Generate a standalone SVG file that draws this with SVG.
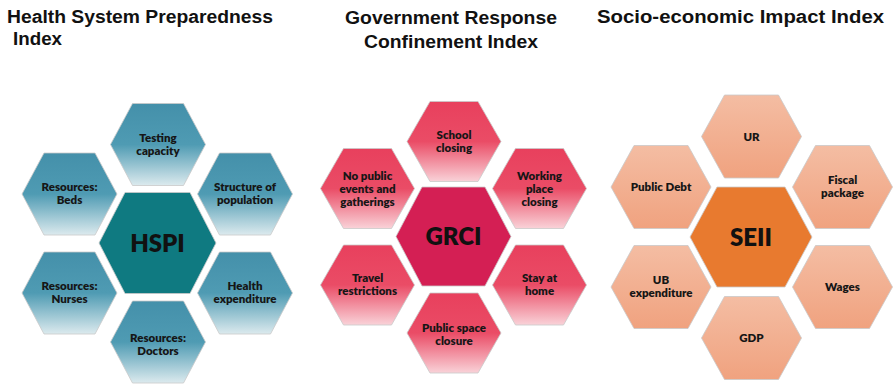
<svg xmlns="http://www.w3.org/2000/svg" xmlns:xlink="http://www.w3.org/1999/xlink" width="894" height="384" viewBox="0 0 894 384">
  <style>
    .title { font-family: "Liberation Sans", Arial, sans-serif; font-weight: bold; font-size: 18px; fill: #111; }
    .lbl { font-family: Lato, "Open Sans", sans-serif; font-weight: 800; font-size: 11.5px; fill: #161616; text-anchor: middle; }
    .big { font-family: Lato, "Open Sans", sans-serif; font-weight: 800; font-size: 24px; fill: #111; text-anchor: middle; }
    .hx { stroke: #c9c9c9; stroke-width: 0.8; }
  </style>
  <defs>
    <linearGradient id="gTeal" x1="0" y1="0" x2="0" y2="1">
      <stop offset="0" stop-color="#4490aa"/>
      <stop offset="0.5" stop-color="#4f9bb3"/>
      <stop offset="1" stop-color="#dceaee"/>
    </linearGradient>
    <linearGradient id="gPink" x1="0" y1="0" x2="0" y2="1">
      <stop offset="0" stop-color="#e8405d"/>
      <stop offset="0.5" stop-color="#ea4c66"/>
      <stop offset="1" stop-color="#f9d2d8"/>
    </linearGradient>
    <linearGradient id="gPeach" x1="0" y1="0" x2="0" y2="1">
      <stop offset="0" stop-color="#f4bda3"/>
      <stop offset="1" stop-color="#f0a27f"/>
    </linearGradient>
    <polygon id="hT" points="-47.5,0 -25.5,-41 25.5,-41 47.5,0 25.5,41 -25.5,41"/>
    <polygon id="hP" points="-47,0 -24,-40 24,-40 47,0 24,40 -24,40"/>
    <polygon id="hO" points="-50,0 -27,-41.5 27,-41.5 50,0 27,41.5 -27,41.5"/>
  </defs>

  <g id="titles">
    <text class="title" x="7" y="23" textLength="266" lengthAdjust="spacingAndGlyphs">Health System Preparedness</text>
    <text class="title" x="13" y="45" textLength="49" lengthAdjust="spacingAndGlyphs">Index</text>
    <text class="title" x="451" y="24" text-anchor="middle" textLength="212" lengthAdjust="spacingAndGlyphs">Government Response</text>
    <text class="title" x="451" y="48" text-anchor="middle" textLength="174" lengthAdjust="spacingAndGlyphs">Confinement Index</text>
    <text class="title" x="597" y="23" textLength="287" lengthAdjust="spacingAndGlyphs">Socio-economic Impact Index</text>
  </g>

  <g id="connectors"></g>

  <!-- Panel 1: HSPI -->
  <g id="hspi">
    <polygon class="hx" fill="#0f7a81" points="99,243 125,192.5 190,192.5 216,243 190,293.5 125,293.5"/>
    <text class="big" x="157.5" y="252">HSPI</text>
  </g>
  <g id="testing">
    <use xlink:href="#hT" href="#hT" class="hx" fill="url(#gTeal)" transform="translate(158,144.5)"/>
    <text class="lbl" x="158" y="142">Testing</text>
    <text class="lbl" x="158" y="155">capacity</text>
  </g>
  <g id="beds">
    <use xlink:href="#hT" href="#hT" class="hx" fill="url(#gTeal)" transform="translate(69.5,194)"/>
    <text class="lbl" x="69.5" y="191">Resources:</text>
    <text class="lbl" x="69.5" y="204">Beds</text>
  </g>
  <g id="structure">
    <use xlink:href="#hT" href="#hT" class="hx" fill="url(#gTeal)" transform="translate(245,194)"/>
    <text class="lbl" x="245" y="191">Structure of</text>
    <text class="lbl" x="245" y="204">population</text>
  </g>
  <g id="nurses">
    <use xlink:href="#hT" href="#hT" class="hx" fill="url(#gTeal)" transform="translate(69.5,293)"/>
    <text class="lbl" x="69.5" y="290">Resources:</text>
    <text class="lbl" x="69.5" y="303">Nurses</text>
  </g>
  <g id="healthexp">
    <use xlink:href="#hT" href="#hT" class="hx" fill="url(#gTeal)" transform="translate(245,293)"/>
    <text class="lbl" x="245" y="290">Health</text>
    <text class="lbl" x="245" y="303">expenditure</text>
  </g>
  <g id="doctors">
    <use xlink:href="#hT" href="#hT" class="hx" fill="url(#gTeal)" transform="translate(158,342)"/>
    <text class="lbl" x="158" y="341.5">Resources:</text>
    <text class="lbl" x="158" y="354.5">Doctors</text>
  </g>

  <!-- Panel 2: GRCI -->
  <g id="grci">
    <polygon class="hx" fill="#d41f54" points="396,236.5 422,187 485,187 511,236.5 485,286 422,286"/>
    <text class="big" x="453.5" y="245">GRCI</text>
  </g>
  <g id="school">
    <use xlink:href="#hP" href="#hP" class="hx" fill="url(#gPink)" transform="translate(454,141.5)"/>
    <text class="lbl" x="454" y="139">School</text>
    <text class="lbl" x="454" y="152">closing</text>
  </g>
  <g id="nopublic">
    <use xlink:href="#hP" href="#hP" class="hx" fill="url(#gPink)" transform="translate(367.5,188.5)"/>
    <text class="lbl" x="367.5" y="180">No public</text>
    <text class="lbl" x="367.5" y="193">events and</text>
    <text class="lbl" x="367.5" y="206">gatherings</text>
  </g>
  <g id="working">
    <use xlink:href="#hP" href="#hP" class="hx" fill="url(#gPink)" transform="translate(539.5,188.5)"/>
    <text class="lbl" x="539.5" y="180">Working</text>
    <text class="lbl" x="539.5" y="193">place</text>
    <text class="lbl" x="539.5" y="206">closing</text>
  </g>
  <g id="travel">
    <use xlink:href="#hP" href="#hP" class="hx" fill="url(#gPink)" transform="translate(367.5,285)"/>
    <text class="lbl" x="367.5" y="282">Travel</text>
    <text class="lbl" x="367.5" y="295">restrictions</text>
  </g>
  <g id="stay">
    <use xlink:href="#hP" href="#hP" class="hx" fill="url(#gPink)" transform="translate(539.5,285)"/>
    <text class="lbl" x="539.5" y="282">Stay at</text>
    <text class="lbl" x="539.5" y="295">home</text>
  </g>
  <g id="publicspace">
    <use xlink:href="#hP" href="#hP" class="hx" fill="url(#gPink)" transform="translate(454,333)"/>
    <text class="lbl" x="454" y="332">Public space</text>
    <text class="lbl" x="454" y="345">closure</text>
  </g>

  <!-- Panel 3: SEII -->
  <g id="seii">
    <polygon class="hx" fill="#e87a2f" points="690,237 717,187 785,187 812,237 785,287 717,287"/>
    <text class="big" x="751" y="245.5">SEII</text>
  </g>
  <g id="ur">
    <use xlink:href="#hO" href="#hO" class="hx" fill="url(#gPeach)" transform="translate(751.5,136.5)"/>
    <text class="lbl" x="751.5" y="141">UR</text>
  </g>
  <g id="publicdebt">
    <use xlink:href="#hO" href="#hO" class="hx" fill="url(#gPeach)" transform="translate(661,187)"/>
    <text class="lbl" x="661" y="191">Public Debt</text>
  </g>
  <g id="fiscal">
    <use xlink:href="#hO" href="#hO" class="hx" fill="url(#gPeach)" transform="translate(842.5,187)"/>
    <text class="lbl" x="842.5" y="184">Fiscal</text>
    <text class="lbl" x="842.5" y="197">package</text>
  </g>
  <g id="ub">
    <use xlink:href="#hO" href="#hO" class="hx" fill="url(#gPeach)" transform="translate(661,287)"/>
    <text class="lbl" x="661" y="284">UB</text>
    <text class="lbl" x="661" y="297">expenditure</text>
  </g>
  <g id="wages">
    <use xlink:href="#hO" href="#hO" class="hx" fill="url(#gPeach)" transform="translate(842.5,287)"/>
    <text class="lbl" x="842.5" y="291">Wages</text>
  </g>
  <g id="gdp">
    <use xlink:href="#hO" href="#hO" class="hx" fill="url(#gPeach)" transform="translate(751.5,338)"/>
    <text class="lbl" x="751.5" y="342">GDP</text>
  </g>
</svg>
